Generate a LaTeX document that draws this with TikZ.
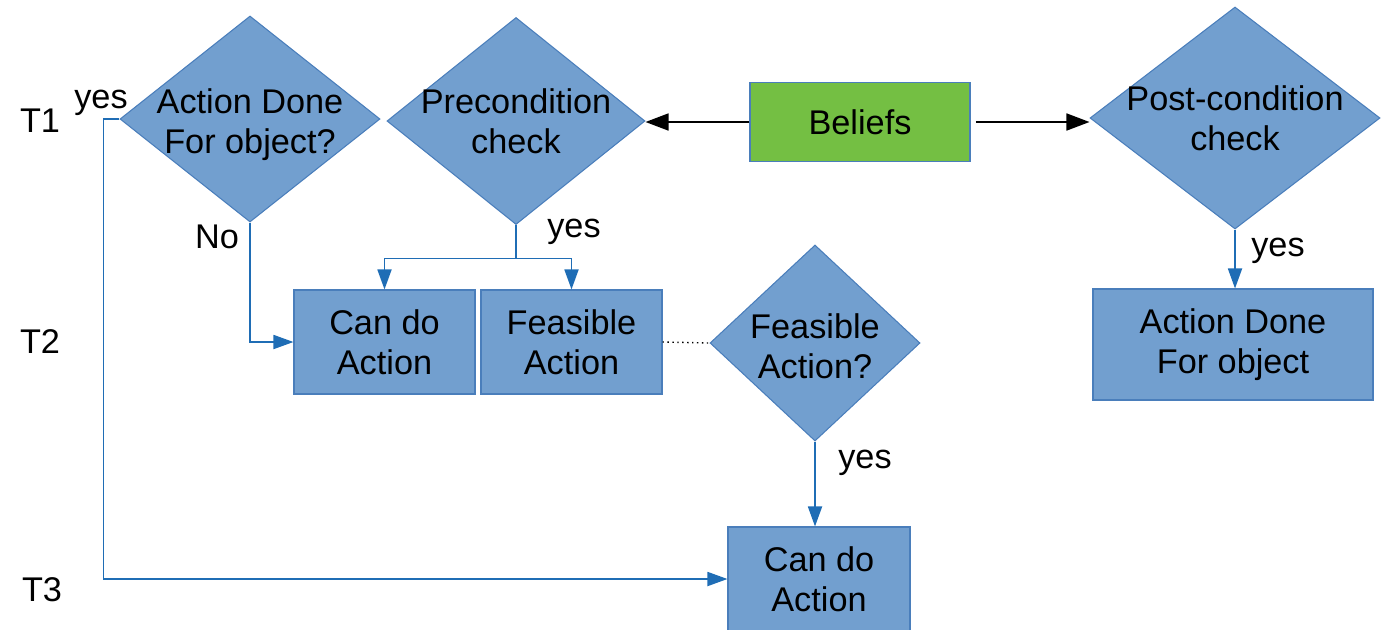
\documentclass[tikz,border=0pt]{standalone}
\usepackage{fontspec}
\setmainfont{Liberation Sans}
\usetikzlibrary{arrows.meta,shapes.geometric}
\definecolor{azulRelleno}{HTML}{729FCF}
\definecolor{azulBorde}{HTML}{4A7EBB}
\definecolor{azulLinea}{HTML}{1F6DB5}
\definecolor{verdeCreencias}{HTML}{74BF43}

\begin{document}
\begin{tikzpicture}[
    font=\fontsize{19.5}{22.8}\selectfont,
    caja/.style={rectangle, draw=azulBorde, line width=0.6pt, fill=azulRelleno,
                 minimum width=3.62cm, minimum height=2.08cm, align=center, inner sep=0pt},
    rombo/.style={diamond, draw=azulBorde, line width=0.6pt, fill=azulRelleno, inner sep=0pt},
    etiqueta/.style={inner sep=0pt},
    flecha/.style={-{Triangle[length=4mm,width=2.8mm]}, line width=1pt, draw=azulLinea},
    flechaNegra/.style={-{Triangle[length=4.6mm,width=3.4mm]}, line width=1pt, draw=black}
  ]
  \useasboundingbox (0,0) rectangle (27.86,-12.58);

  % fila T1
  \node[rombo, minimum width=5.2cm, minimum height=4.12cm,
        label={[align=center, yshift=-0.11cm]center:Action Done\\For object?}] (hecho) at (5.0,-2.38) {};
  \node[rombo, minimum width=5.16cm, minimum height=4.14cm,
        label={[align=center]center:Precondition\\check}] (precond) at (10.32,-2.42) {};
  \node[caja, fill=verdeCreencias, minimum width=4.4cm, minimum height=1.58cm] (creencias) at (17.2,-2.44) {Beliefs};
  \node[rombo, minimum width=5.8cm, minimum height=4.44cm,
        label={[align=center]center:Post-condition\\check}] (postcond) at (24.7,-2.36) {};

  % fila T2
  \node[caja] (puede) at (7.69,-6.84) {Can do\\Action};
  \node[caja] (factible) at (11.43,-6.84) {Feasible\\Action};
  \node[rombo, minimum width=4.2cm, minimum height=3.92cm,
        label={[align=center, yshift=-0.06cm]center:Feasible\\Action?}] (esFactible) at (16.3,-6.86) {};
  \node[caja, minimum width=5.6cm, minimum height=2.22cm] (hechoObj) at (24.66,-6.89) {Action Done\\For object};

  % fila T3
  \node[caja, minimum width=3.64cm] (puedeFinal) at (16.38,-11.58) {Can do\\Action};

  % tiempos
  \node[etiqueta] (t1) at (0.8,-2.42) {T1};
  \node[etiqueta] (t2) at (0.8,-6.84) {T2};
  \node[etiqueta] (t3) at (0.84,-11.8) {T3};

  % conexiones
  \draw[flechaNegra] (creencias.west) -- (creencias.west -| precond.east);
  \draw[flechaNegra, shorten <=3pt] (creencias.east) -- (creencias.east -| postcond.west);

  \draw[flecha] (precond.south) -- ++(0,-0.67) -| (puede.north);
  \draw[flecha] (precond.south) -- ++(0,-0.67) -| (factible.north);
  \draw[flecha] (hecho.south) |- (puede.west);
  \draw[flecha] (hecho.west) -- ++(-0.32,0) |- (puedeFinal.west);
  \draw[dotted, line width=0.8pt] (factible.east) -- (esFactible.west);
  \draw[flecha] (esFactible.south) -- (esFactible.south |- puedeFinal.north);
  \draw[flecha] (postcond.south) -- (postcond.south |- hechoObj.north);

  \node[etiqueta] (siHecho) at (2.02,-2.06) {yes};
  \node[etiqueta] (noHecho) at (4.34,-4.74) {No};
  \node[etiqueta] (siPre) at (11.48,-4.64) {yes};
  \node[etiqueta] (siFactible) at (17.3,-9.26) {yes};
  \node[etiqueta] (siPost) at (25.56,-5.02) {yes};
\end{tikzpicture}
\end{document}
